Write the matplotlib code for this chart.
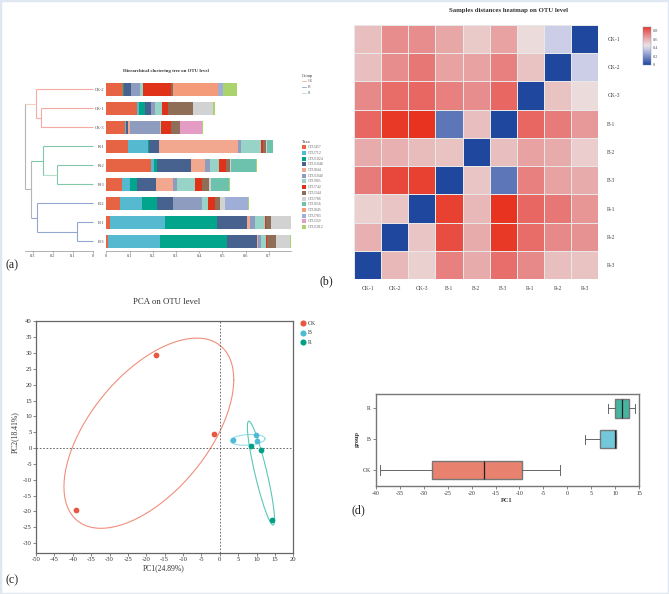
import matplotlib
matplotlib.use("Agg")
import matplotlib.pyplot as plt
import numpy as np
from matplotlib.colors import LinearSegmentedColormap
from matplotlib.patches import Rectangle

plt.rcParams['font.family'] = ['Liberation Serif', 'DejaVu Serif']
plt.rcParams['axes.unicode_minus'] = False

W, H = 669, 594

# (a) stacked bars, rows from top to bottom
samples = ["CK-2", "CK-1", "CK-3", "R-1", "R-2", "R-3", "B-2", "B-1", "B-3"]
taxa = ["OTU457", "OTU712", "OTU1024", "OTU1048", "OTU844", "OTU1040", "OTU905", "OTU742",
        "OTU344", "OTU786", "OTU656", "OTU845", "OTU783", "OTU339", "OTU1012"]
taxa_colors = ["#E66444", "#55B9D0", "#00A58C", "#47628F", "#F2A88E", "#8E9DBF", "#98D3C8", "#E03218",
               "#8F6E57", "#D2D2D2", "#6CC2AC", "#F49C7A", "#9FAED6", "#E49BC4", "#AAD36E"]
otu457 = [.073, .132, .081, .094, .193, .066, .059, .016, .007]
otu712 = [.001, .009, .004, .086, .014, .036, .096, .236, .224]
otu1024 = [.004, .027, 0, .004, .012, .030, .065, .224, .289]
otu1048 = [.030, .026, .010, .042, .147, .082, .069, .128, .129]
otu844 = [0, 0, .007, .342, .059, .073, 0, .013, .006]
otu1040 = [.039, .014, .129, .013, .023, .017, .125, .024, .009]
otu905 = [.012, .032, .003, .083, .039, .079, .023, .040, .022]
otu742 = [.121, .027, .043, .012, .027, .027, .029, .006, .006]
otu344 = [.009, .105, .040, .013, .020, .032, .022, .023, .037]
otu786 = [0, .086, 0, .004, .003, .009, .024, .085, .063]
otu656 = [0, 0, 0, .023, .106, .079, 0, 0, 0]
otu845 = [.193, 0, 0, 0, 0, 0, 0, 0, 0]
otu783 = [.019, 0, 0, 0, 0, 0, .098, 0, 0]
otu339 = [0, 0, .096, 0, 0, 0, 0, 0, 0]
otu1012 = [.062, .009, .004, .003, .006, .003, .003, .001, .001]
stack = [otu457, otu712, otu1024, otu1048, otu844, otu1040, otu905, otu742,
         otu344, otu786, otu656, otu845, otu783, otu339, otu1012]

# (a) tree merge heights
ck13_h, ck_h = 0.26, 0.282
r23_h, r_h = 0.18, 0.25
b13_h, b_h = 0.077, 0.277
rb_h, root_h = 0.307, 0.338

# (b) distances
heat_labels = ["CK-1", "CK-2", "CK-3", "B-1", "B-2", "B-3", "R-1", "R-2", "R-3"]
heat = [[.55, .67, .67, .61, .52, .62, .47, .365, 0],
        [.55, .67, .72, .62, .62, .70, .54, 0, .365],
        [.68, .75, .76, .70, .67, .76, 0, .54, .47],
        [.76, .87, .88, .13, .55, 0, .76, .71, .64],
        [.60, .59, .56, .54, 0, .55, .62, .60, .51],
        [.71, .83, .85, 0, .53, .13, .70, .62, .60],
        [.50, .53, 0, .85, .57, .88, .76, .72, .65],
        [.59, 0, .53, .82, .60, .87, .75, .68, .66],
        [0, .57, .50, .70, .60, .74, .68, .55, .54]]

# (c) PCA
groups = ["CK", "B", "R"]
pc1_ck = [-39, -17.3, -1.6]
pc2_ck = [-19.5, 29.3, 4.4]
pc1_b = [3.7, 9.9, 10.2]
pc2_b = [2.6, 4.0, 2.1]
pc1_r = [8.4, 11.3, 14.2]
pc2_r = [0.6, -0.5, -22.6]
# centre x, centre y, radius x, radius y, phase in degrees
ell_ck = (-19.3, 4.7, 23.1, 30.0, 55.7)
ell_b = (7.6, 2.6, 4.7, 1.7, 78)
ell_r = (11.2, -7.9, 3.7, 16.4, 153)


def ax_px(left, top, right, bottom):
    return fig.add_axes([left / W, 1 - bottom / H, (right - left) / W, (bottom - top) / H])


def txt(x, y, s, size, **kw):
    kw.setdefault('ha', 'center')
    kw.setdefault('va', 'center')
    kw.setdefault('color', '#333333')
    fig.text(x / W, 1 - y / H, s, fontsize=size, **kw)


fig = plt.figure(figsize=(W / 100, H / 100), dpi=100)
fig.patches.append(Rectangle((0, 0), 1, 1, transform=fig.transFigure, fill=False, ec="#dfe8f2", lw=2.5))

# ---- panel a
ax_bar = ax_px(106.3, 80, 291, 250.7)
y = np.arange(len(samples))
left = np.zeros(len(samples))
for vals, c in zip(stack, taxa_colors):
    ax_bar.barh(y, vals, left=left, height=0.67, color=c)
    left += np.array(vals)
ax_bar.set_xlim(0, 0.795)
ax_bar.set_ylim(8.49, -0.49)
ax_bar.set_xticks(np.arange(0, 0.71, 0.1), ["0", "0.1", "0.2", "0.3", "0.4", "0.5", "0.6", "0.7"])
ax_bar.set_yticks(y, samples)
ax_bar.tick_params(axis='x', labelsize=3.2, length=1.2, width=0.4, pad=1, color="#777777", labelcolor="#444444")
ax_bar.tick_params(axis='y', labelsize=3.2, length=0, pad=1.5, labelcolor="#444444")
for s in ['top', 'right', 'left']:
    ax_bar.spines[s].set_visible(False)
ax_bar.spines['bottom'].set_linewidth(0.4)
ax_bar.spines['bottom'].set_color("#777777")

ax_tree = ax_px(25, 80, 92.7, 250.7)
ax_tree.set_xlim(0.338, 0)
ax_tree.set_ylim(8.49, -0.49)
pink, green, blue, grey = "#F6A9A0", "#80C8A8", "#93A6D2", "#B5B5B5"


def seg(xs, ys, c):
    ax_tree.plot(xs, ys, color=c, lw=0.8, solid_capstyle='butt', clip_on=False)


# CK
seg([0, ck_h], [0, 0], pink)
seg([0, ck13_h], [1, 1], pink)
seg([0, ck13_h], [2, 2], pink)
seg([ck13_h, ck13_h], [1, 2], pink)
seg([ck13_h, ck_h], [1.5, 1.5], pink)
seg([ck_h, ck_h], [0, 1.5], pink)
seg([ck_h, root_h], [0.75, 0.75], "#F8CFC8")
# R
seg([0, r_h], [3, 3], green)
seg([0, r23_h], [4, 4], green)
seg([0, r23_h], [5, 5], green)
seg([r23_h, r23_h], [4, 5], green)
seg([r23_h, r_h], [4.5, 4.5], "#B5E0C8")
seg([r_h, r_h], [3, 4.5], green)
seg([r_h, rb_h], [3.75, 3.75], green)
# B
seg([0, b_h], [6, 6], blue)
seg([0, b13_h], [7, 7], blue)
seg([0, b13_h], [8, 8], blue)
seg([b13_h, b13_h], [7, 8], blue)
seg([b13_h, b_h], [7.5, 7.5], blue)
seg([b_h, b_h], [6, 7.5], blue)
seg([b_h, rb_h], [6.75, 6.75], blue)
# upper joins
seg([rb_h, rb_h], [3.75, 6.75], grey)
seg([rb_h, root_h], [5.25, 5.25], grey)
seg([root_h, root_h], [0.75, 5.25], grey)
ax_tree.set_xticks([0.3, 0.2, 0.1, 0], ["0.3", "0.2", "0.1", "0"])
ax_tree.set_yticks([])
ax_tree.tick_params(axis='x', labelsize=3.2, length=1.2, width=0.4, pad=1, color="#777777", labelcolor="#444444")
for s in ['top', 'right', 'left']:
    ax_tree.spines[s].set_visible(False)
ax_tree.spines['bottom'].set_linewidth(0.4)
ax_tree.spines['bottom'].set_color("#777777")

txt(166, 70.7, "Hierarchical clustering tree on OTU level", 3.5, fontweight='bold')
txt(302, 76, "Group", 3.2, ha='left')
for i, (g, c) in enumerate(zip(groups, [pink, blue, "#A8E0D0"])):
    yy = 81.3 + i * 5.8
    fig.add_artist(plt.Line2D([302 / W, 306 / W], [1 - yy / H, 1 - yy / H], color=c, lw=0.6))
    txt(307.5, yy, g, 2.8, ha='left', color="#666666")
txt(302, 142.3, "Taxa", 3.2, ha='left')
for i, (t, c) in enumerate(zip(taxa, taxa_colors)):
    yy = 147.3 + i * 5.69
    fig.patches.append(Rectangle((301.7 / W, 1 - (yy + 2) / H), 4.2 / W, 4 / H, transform=fig.transFigure, fc=c, ec='none'))
    txt(307.5, yy, t, 2.8, ha='left', color="#666666")
txt(12, 265.7, "(a)", 8.6, color="#222222")

# ---- panel b
heat_cmap = LinearSegmentedColormap.from_list(
    "dist", [(0, "#1F479E"), (0.365 / 0.885, "#CCCDE6"), (0.45 / 0.885, "#EDE2E2"), (0.58 / 0.885, "#E8B4B4"),
             (0.70 / 0.885, "#E78080"), (0.768 / 0.885, "#E8645F"), (1, "#E8321E")])
ax_heat = ax_px(354, 24.7, 598.3, 279.3)
ax_heat.pcolormesh(np.array(heat), cmap=heat_cmap, vmin=0, vmax=0.885, edgecolors="#E8E8E8", linewidth=0.4)
ax_heat.set_ylim(9, 0)
ax_heat.set_xticks(np.arange(9) + 0.5, heat_labels)
ax_heat.set_yticks(np.arange(9) + 0.5, heat_labels)
ax_heat.yaxis.tick_right()
ax_heat.tick_params(length=0, labelsize=4.1, pad=4.5, labelcolor="#444444")
ax_heat.tick_params(axis='y', pad=6.5)
for s in ax_heat.spines.values():
    s.set_visible(False)
txt(508.7, 10.3, "Samples distances heatmap on OTU level", 4.9, fontweight='bold')
txt(326.5, 281.5, "(b)", 8.6, color="#222222")

ax_cb = ax_px(642.7, 26.7, 650.7, 65)
ax_cb.imshow(np.linspace(0.885, 0, 128).reshape(-1, 1), aspect='auto', cmap=heat_cmap, vmin=0, vmax=0.885,
             extent=[0, 1, 0, 0.885])
ax_cb.set_xticks([])
ax_cb.yaxis.tick_right()
ax_cb.set_yticks([0, 0.2, 0.4, 0.6, 0.8], ["0", "0.2", "0.4", "0.6", "0.8"])
ax_cb.tick_params(length=0, labelsize=3.2, pad=1.5, labelcolor="#555555")
for s in ax_cb.spines.values():
    s.set_linewidth(0.3)
    s.set_color("#7a8fc0")

# ---- panel c
ax_pca = ax_px(36, 321.3, 293.3, 552.7)
ck_c, b_c, r_c = "#E8573F", "#4DBBD5", "#00A087"
t = np.radians(np.arange(0, 361, 2))
for (cx, cy, rx, ry, ph), c in zip([ell_ck, ell_b, ell_r], ["#F08E7C", "#98DCEA", "#5CC8B6"]):
    ax_pca.plot(cx + rx * np.cos(t), cy + ry * np.cos(t - np.radians(ph)), color=c, lw=0.8)
ax_pca.axhline(0, color="#555555", lw=0.6, ls=(0, (2, 2)))
ax_pca.axvline(0, color="#555555", lw=0.6, ls=(0, (2, 2)))
for xs, ys, c in zip([pc1_ck, pc1_b, pc1_r], [pc2_ck, pc2_b, pc2_r], [ck_c, b_c, r_c]):
    ax_pca.scatter(xs, ys, s=17, color=c, lw=0, zorder=3)
ax_pca.set_xlim(-50, 20)
ax_pca.set_ylim(-33, 40)
ax_pca.set_xticks(np.arange(-50, 21, 5))
ax_pca.set_yticks(np.arange(-30, 41, 5))
ax_pca.tick_params(labelsize=4.8, length=2, width=0.5, pad=1, color="#555555", labelcolor="#333333")
for s in ax_pca.spines.values():
    s.set_linewidth(0.9)
    s.set_color("#666666")
txt(167, 302, "PCA on OTU level", 6.3)
txt(164, 568, "PC1(24.89%)", 5.5)
txt(15, 432, "PC2(18.41%)", 5.5, rotation=90)
txt(12, 580, "(c)", 8.6, color="#222222")
for i, (g, c) in enumerate(zip(groups, [ck_c, b_c, r_c])):
    yy = 323.3 + i * 9.5
    fig.add_artist(plt.Line2D([303.3 / W], [1 - yy / H], marker='o', ms=4.4, color=c, mew=0, ls='none'))
    txt(308, yy, g, 4.2, ha='left')

# ---- panel d
ax_box = ax_px(375.7, 393.7, 639.3, 485.7)
bp = ax_box.boxplot([pc1_ck, pc1_b, pc1_r], vert=False, whis=(0, 100), widths=0.6, patch_artist=True,
                    capwidths=0.3, showfliers=False)
for box, c in zip(bp['boxes'], ["#E8826E", "#72C8DA", "#46B59F"]):
    box.set(facecolor=c, edgecolor="#777777", linewidth=1.0)
for k in ['whiskers', 'caps']:
    for item in bp[k]:
        item.set(color="#666666", linewidth=0.7)
for item in bp['medians']:
    item.set(color="#222222", linewidth=0.9)
ax_box.set_xlim(-40, 15)
ax_box.set_ylim(0.49, 3.48)
ax_box.set_xticks(np.arange(-40, 16, 5))
ax_box.set_yticks([1, 2, 3], groups)
ax_box.tick_params(labelsize=4.2, length=2, width=0.5, pad=1.5, color="#555555", labelcolor="#333333")
for s in ax_box.spines.values():
    s.set_linewidth(1.0)
    s.set_color("#777777")
txt(506.7, 500, "PC1", 4.6, fontweight='bold')
txt(357, 439, "group", 4.6, fontweight='bold', rotation=90)
txt(358.5, 510, "(d)", 8.6, color="#222222")

fig.savefig("out.png", dpi=100)
